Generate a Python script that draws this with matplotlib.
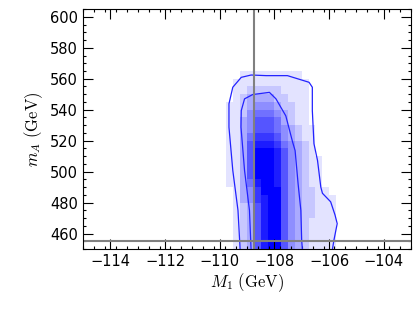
import numpy as np
import matplotlib
matplotlib.use("Agg")
import matplotlib.pyplot as plt
from matplotlib.colors import LinearSegmentedColormap

# ---- data ----
x_edges = np.arange(-110.0, -105.5 + 0.001, 0.25)   # 18 bins
y_edges = np.arange(450.0, 565.0 + 0.001, 5.0)      # 23 bins
# density rows from y=450 (first) to y=560 (last), digits 0-9, columns from x=-110
density_rows = [
    "001236899643211110",  # 450
    "001236899643211110",  # 455
    "001236899643211110",  # 460
    "001236899643211110",  # 465
    "001236899643221110",  # 470
    "001236899643221110",  # 475
    "001347899643221110",  # 480
    "001347999643221100",  # 485
    "011358998643211000",  # 490
    "011369998643211000",  # 495
    "011369998643211000",  # 500
    "011369998643211000",  # 505
    "011369998643210000",  # 510
    "011368887543210000",  # 515
    "011357776432110000",  # 520
    "011346665432110000",  # 525
    "011346665321100000",  # 530
    "011245554321100000",  # 535
    "011234443221100000",  # 540
    "001233332211100000",  # 545
    "001122222111100000",  # 550
    "001111111111100000",  # 555
    "000111111111000000",  # 560
]

outer_x = [-109.25, -109.33, -109.52, -109.66, -109.66, -109.52, -109.21, -108.85,
           -108.30, -107.52, -106.73, -106.61, -106.61, -106.55, -106.42, -106.30,
           -106.24, -105.94, -105.78, -105.70, -105.82, -105.88]
outer_y = [449.2, 475.0, 500.8, 528.7, 543.8, 554.5, 560.9, 562.4,
           562.0, 562.0, 557.7, 554.5, 539.4, 518.0, 507.2, 490.0,
           486.0, 480.5, 472.0, 466.4, 455.7, 449.2]

inner_x = [-108.85, -108.91, -109.09, -109.22, -109.21, -109.09, -108.79, -108.18,
           -107.94, -107.58, -107.33, -107.24, -107.13, -107.03, -107.00, -106.97]
inner_y = [449.2, 475.0, 500.8, 528.7, 539.4, 547.0, 549.8, 551.2,
           547.0, 536.0, 519.0, 513.6, 492.0, 475.0, 455.7, 449.2]

v_line_x = -108.75
h_line_y = 455.0

x_ticks = [-114, -112, -110, -108, -106, -104]
y_ticks = [460, 480, 500, 520, 540, 560, 580, 600]

# ---- plot ----
plt.rcParams['mathtext.fontset'] = 'cm'
fig = plt.figure(figsize=(4.16, 3.12), dpi=100)
ax = fig.add_axes([0.1995, 0.2019, 0.7885, 0.769])

Z = np.array([[int(c) for c in row] for row in density_rows], dtype=float) / 9.0
cmap = LinearSegmentedColormap.from_list("wb", ["#ffffff", "#0000ff"])
ax.pcolormesh(x_edges, y_edges, Z, cmap=cmap, vmin=0, vmax=1, shading='flat')

ax.plot(outer_x, outer_y, color='#2222ff', lw=0.9)
ax.plot(inner_x, inner_y, color='#2222ff', lw=0.9)

ax.axvline(v_line_x, color='#808080', lw=1.5)
ax.axhline(h_line_y, color='#808080', lw=1.5)

ax.set_xlim(-115, -103)
ax.set_ylim(450, 605)
ax.set_xticks(x_ticks)
ax.set_yticks(y_ticks)
ax.set_xticks(np.arange(-115, -103 + 0.01, 0.4), minor=True)
ax.set_yticks(np.arange(450, 605.01, 5), minor=True)
ax.tick_params(which='both', direction='in', top=True, right=True, labelsize=10.5)
ax.tick_params(which='major', length=7, width=0.8)
ax.tick_params(which='minor', length=2.5, width=0.8)
for s in ax.spines.values():
    s.set_linewidth(0.8)

ax.set_xlabel(r'$M_1\ (\mathrm{GeV})$', fontsize=12, labelpad=2)
ax.set_ylabel(r'$m_A\ (\mathrm{GeV})$', fontsize=12, labelpad=4)

fig.savefig("out.png", dpi=100)
